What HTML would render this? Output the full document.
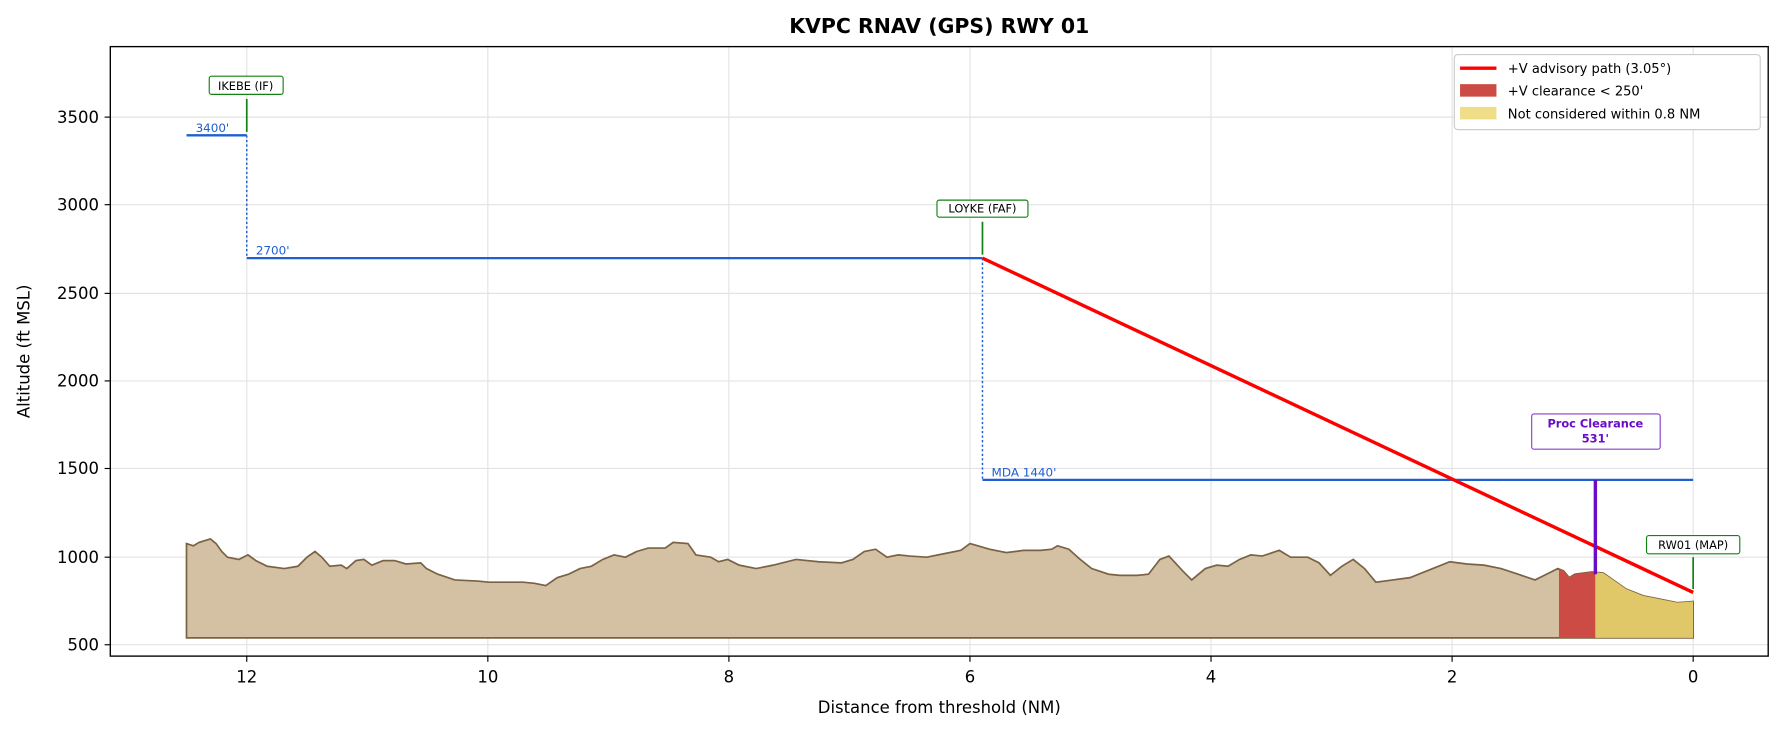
<!DOCTYPE html>
<html><head><meta charset="utf-8"><style>body{margin:0;background:#fff}svg{display:block;font-family:"DejaVu Sans","Liberation Sans",sans-serif}</style></head><body>
<svg width="1783" height="734" viewBox="0 0 1568 645.5" xmlns="http://www.w3.org/2000/svg">
<defs>
<clipPath id="red"><rect x="1371" y="0" width="32" height="734"/></clipPath>
<clipPath id="yel"><rect x="1403" y="0" width="86" height="734"/></clipPath>
<polygon id="ter" points="164,561 164,478 170,480 175,477 185,474 190,478 195,485 200,490 210,492 218,488 225,493 235,498 250,500 262,498 270,490 277,485 283,490 290,498 300,497 305,500 313,493 320,492 327,497 337,493 347,493 357,496 370,495 375,500 385,505 400,510 420,511 430,512 445,512 460,512 470,513 480,515 490,508 500,505 510,500 520,498 530,492 540,488 550,490 560,485 570,482 585,482 592,477 605,478 612,488 625,490 632,494 640,492 650,497 665,500 680,497 700,492 720,494 740,495 750,492 760,485 770,483 780,490 790,488 800,489 815,490 830,487 845,484 853,478 860,480 870,483 885,486 900,484 915,484 925,483 930,480 940,483 950,492 960,500 975,505 985,506 1000,506 1010,505 1020,492 1028,489 1040,502 1048,510 1060,500 1070,497 1080,498 1090,492 1100,488 1110,489 1125,484 1135,490 1150,490 1160,495 1170,506 1180,498 1190,492 1200,500 1210,512 1225,510 1240,508 1260,500 1275,494 1290,496 1305,497 1320,500 1335,505 1350,510 1360,505 1370,500 1375,502 1380,508 1385,505 1400,503 1410,504 1420,511 1430,518 1445,524 1460,527 1475,530 1489,529 1489,561"/>
</defs>
<text x="826" y="29" font-size="18" font-weight="bold" text-anchor="middle">KVPC  RNAV (GPS) RWY 01</text>
<g stroke="#e3e3e3" stroke-width="1">
<line x1="217" y1="41" x2="217" y2="577"/><line x1="429" y1="41" x2="429" y2="577"/><line x1="641" y1="41" x2="641" y2="577"/><line x1="853" y1="41" x2="853" y2="577"/><line x1="1065" y1="41" x2="1065" y2="577"/><line x1="1277" y1="41" x2="1277" y2="577"/><line x1="1489" y1="41" x2="1489" y2="577"/>
<line x1="97" y1="567" x2="1555" y2="567"/><line x1="97" y1="490" x2="1555" y2="490"/><line x1="97" y1="412" x2="1555" y2="412"/><line x1="97" y1="335" x2="1555" y2="335"/><line x1="97" y1="258" x2="1555" y2="258"/><line x1="97" y1="180" x2="1555" y2="180"/><line x1="97" y1="103" x2="1555" y2="103"/>
</g>
<use href="#ter" fill="#d4c1a3" stroke="#7a6244" stroke-width="1.5"/>
<use href="#ter" fill="#cc4c45" clip-path="url(#red)"/>
<use href="#ter" fill="#e0c868" clip-path="url(#yel)"/>
<g stroke="#1f5fd1" stroke-width="2" fill="none">
<line x1="164" y1="119" x2="217" y2="119"/><line x1="217" y1="227" x2="864" y2="227"/><line x1="864" y1="422" x2="1489" y2="422"/>
<line x1="217" y1="119" x2="217" y2="227" stroke-width="1.3" stroke-dasharray="2,2"/><line x1="864" y1="227" x2="864" y2="422" stroke-width="1.3" stroke-dasharray="2,2"/>
</g>
<g font-size="10.5" fill="#1f5fd1"><text x="172" y="116">3400'</text><text x="225" y="224">2700'</text><text x="872" y="419">MDA 1440'</text></g>
<line x1="864" y1="227" x2="1489" y2="521" stroke="#ff0000" stroke-width="3"/>
<line x1="1403" y1="422" x2="1403" y2="505" stroke="#6a0dc9" stroke-width="3"/>
<g stroke="#128212" stroke-width="1.5"><line x1="217" y1="87" x2="217" y2="116"/><line x1="864" y1="195" x2="864" y2="224"/><line x1="1489" y1="490" x2="1489" y2="518"/></g>
<g font-size="10" text-anchor="middle">
<rect x="184" y="67" width="65" height="16" rx="2" fill="#fff" stroke="#128212"/><text x="216" y="79">IKEBE (IF)</text>
<rect x="824" y="176" width="80" height="15" rx="2" fill="#fff" stroke="#128212"/><text x="864" y="187">LOYKE (FAF)</text>
<rect x="1448" y="471" width="82" height="16" rx="2" fill="#fff" stroke="#128212"/><text x="1489" y="483">RW01 (MAP)</text>
<rect x="1347" y="364" width="113" height="31" rx="2" fill="#fff" stroke="#8a3fd0"/><text x="1403" y="376" fill="#6a0dc9" font-weight="bold">Proc Clearance</text><text x="1403" y="389" fill="#6a0dc9" font-weight="bold">531'</text>
</g>
<rect x="97" y="41" width="1458" height="536" fill="none" stroke="#000" stroke-width="1.2"/>
<g stroke="#000"><line x1="217" y1="577" x2="217" y2="582"/><line x1="429" y1="577" x2="429" y2="582"/><line x1="641" y1="577" x2="641" y2="582"/><line x1="853" y1="577" x2="853" y2="582"/><line x1="1065" y1="577" x2="1065" y2="582"/><line x1="1277" y1="577" x2="1277" y2="582"/><line x1="1489" y1="577" x2="1489" y2="582"/>
<line x1="92" y1="567" x2="97" y2="567"/><line x1="92" y1="490" x2="97" y2="490"/><line x1="92" y1="412" x2="97" y2="412"/><line x1="92" y1="335" x2="97" y2="335"/><line x1="92" y1="258" x2="97" y2="258"/><line x1="92" y1="180" x2="97" y2="180"/><line x1="92" y1="103" x2="97" y2="103"/></g>
<g font-size="14.5" text-anchor="middle"><text x="217" y="600">12</text><text x="429" y="600">10</text><text x="641" y="600">8</text><text x="853" y="600">6</text><text x="1065" y="600">4</text><text x="1277" y="600">2</text><text x="1489" y="600">0</text>
<text x="826" y="627">Distance from threshold (NM)</text></g>
<g font-size="14.5" text-anchor="end"><text x="87" y="572">500</text><text x="87" y="495">1000</text><text x="87" y="417">1500</text><text x="87" y="340">2000</text><text x="87" y="263">2500</text><text x="87" y="185">3000</text><text x="87" y="108">3500</text></g>
<text transform="translate(26,309) rotate(-90)" font-size="14.5" text-anchor="middle">Altitude (ft MSL)</text>
<rect x="1279" y="48" width="269" height="66" rx="3" fill="#fff" stroke="#ccc"/>
<line x1="1284" y1="60" x2="1316" y2="60" stroke="#f00" stroke-width="3"/>
<rect x="1284" y="74" width="32" height="11" fill="#cc4c45"/>
<rect x="1284" y="94" width="32" height="11" fill="#f0dd88"/>
<g font-size="11.5"><text x="1326" y="64">+V advisory path (3.05°)</text><text x="1326" y="84">+V clearance &lt; 250'</text><text x="1326" y="104">Not considered within 0.8 NM</text></g>
</svg>
</body></html>
